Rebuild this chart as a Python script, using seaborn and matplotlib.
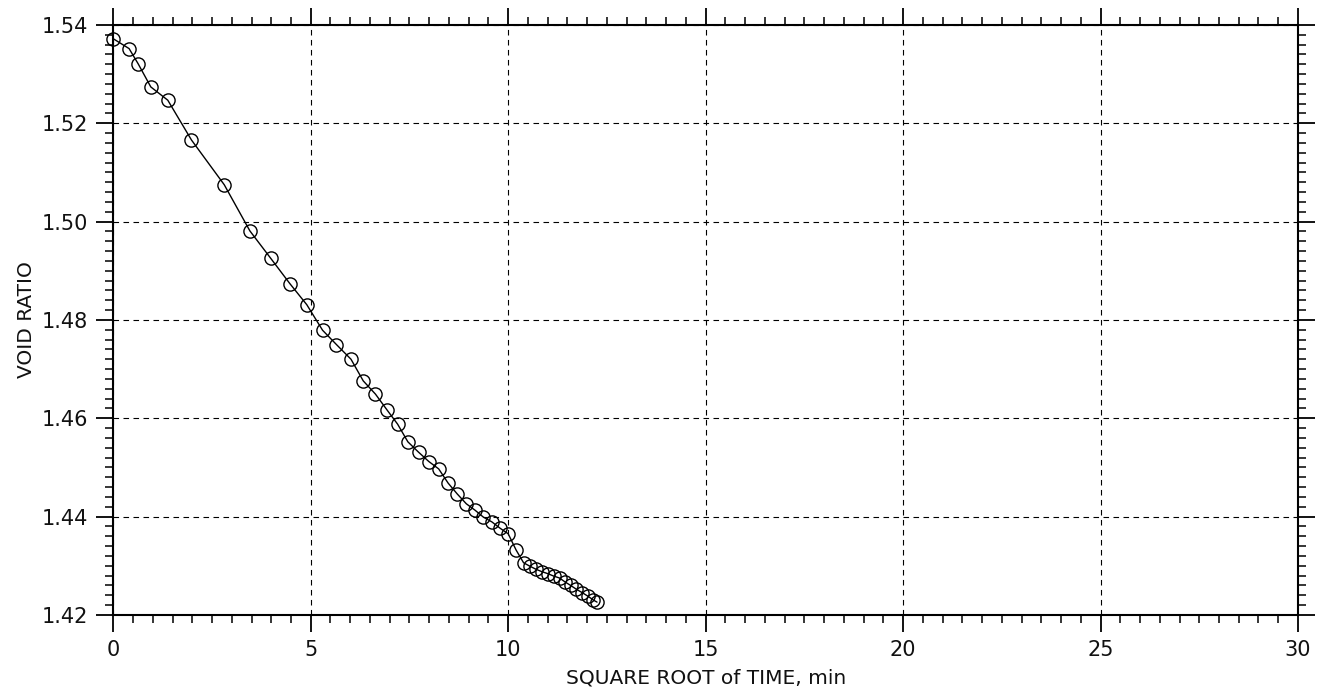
import matplotlib
matplotlib.use("Agg")
import matplotlib.pyplot as plt
from matplotlib.ticker import MultipleLocator, FormatStrFormatter
import seaborn as sns
import pandas as pd

# Consolidation readings: square root of elapsed time (min^0.5) vs void ratio
sqrt_time = [0.0, 0.40, 0.63, 0.95, 1.38, 1.98, 2.81, 3.46, 3.99, 4.47, 4.90, 5.30,
             5.65, 6.02, 6.33, 6.64, 6.94, 7.20, 7.46, 7.73, 7.99, 8.24, 8.48, 8.71,
             8.94, 9.16, 9.37, 9.59, 9.80, 10.0, 10.20, 10.39, 10.55, 10.70, 10.85,
             11.0, 11.15, 11.30, 11.44, 11.58, 11.73, 11.88, 12.02, 12.16, 12.25]
void_ratio = [1.5372, 1.5352, 1.5321, 1.5274, 1.5247, 1.5166, 1.5075, 1.4981, 1.4925,
              1.4874, 1.4831, 1.4779, 1.4750, 1.4720, 1.4676, 1.4649, 1.4616, 1.4588,
              1.4552, 1.4531, 1.4512, 1.4497, 1.4468, 1.4446, 1.4426, 1.4413, 1.4399,
              1.4389, 1.4376, 1.4365, 1.4332, 1.4306, 1.4299, 1.4293, 1.4288, 1.4284,
              1.4279, 1.4275, 1.4267, 1.4260, 1.4252, 1.4245, 1.4238, 1.4230, 1.4226]

x_label = "SQUARE ROOT of TIME, min"
y_label = "VOID RATIO"

df = pd.DataFrame({"t": sqrt_time, "e": void_ratio})

sns.set_theme(style="white")
plt.rcParams["font.family"] = ["DejaVu Sans"]

fig = plt.figure(figsize=(13.25, 6.94), dpi=100)
ax = fig.add_axes([0.0855, 0.114, 0.8941, 0.85])

sns.lineplot(data=df, x="t", y="e", sort=False, ax=ax, color="black",
             linewidth=1.0, marker="o", markersize=9.5, markerfacecolor="none",
             markeredgecolor="black", markeredgewidth=1.0, clip_on=False, zorder=5)

ax.set_xlim(0, 30)
ax.set_ylim(1.42, 1.54)
ax.xaxis.set_major_locator(MultipleLocator(5))
ax.xaxis.set_minor_locator(MultipleLocator(0.5))
ax.yaxis.set_major_locator(MultipleLocator(0.02))
ax.yaxis.set_minor_locator(MultipleLocator(0.002))
ax.yaxis.set_major_formatter(FormatStrFormatter("%.2f"))

ax.grid(True, which="major", color="black", linestyle=(0, (5, 4)), linewidth=0.8)
for s in ax.spines.values():
    s.set_visible(True)
    s.set_color("black")
    s.set_linewidth(1.5)

ax.tick_params(which="both", direction="out", top=True, right=True, bottom=True,
               left=True, color="black", labelsize=15, labelcolor="#111111")
ax.tick_params(which="major", length=12, width=1.3, pad=6)
ax.tick_params(which="minor", length=6, width=1.1)

ax.set_xlabel(x_label, fontsize=14.5, color="#111111", labelpad=6)
ax.set_ylabel(y_label, fontsize=14.5, color="#111111", labelpad=4)

fig.savefig("out.png", dpi=100, facecolor="white")
